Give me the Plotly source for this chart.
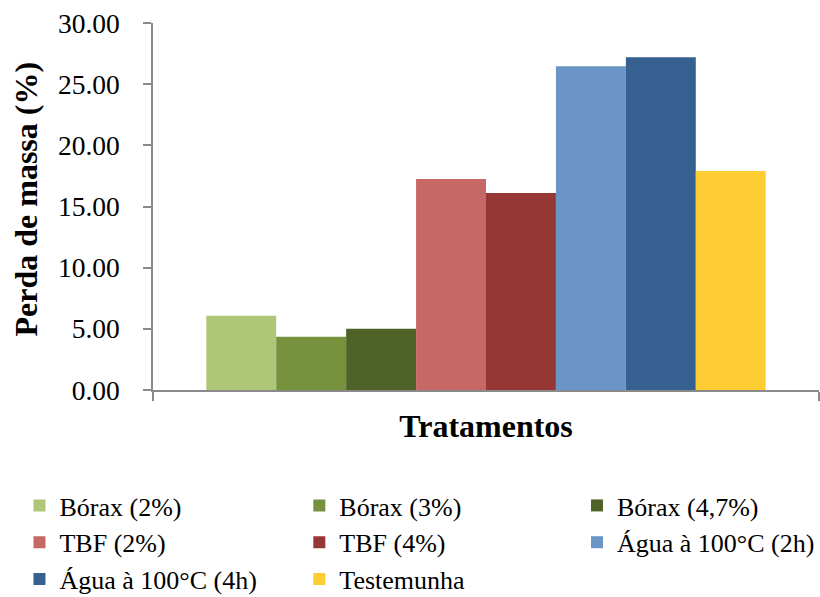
import plotly.graph_objects as go

# Treatments and mass-loss values (%)
tratamentos = [
    "Bórax (2%)", "Bórax (3%)", "Bórax (4,7%)",
    "TBF (2%)", "TBF (4%)",
    "Água à 100°C (2h)", "Água à 100°C (4h)", "Testemunha",
]
perda_massa = [6.07, 4.35, 5.00, 17.25, 16.10, 26.47, 27.20, 17.90]
cores = [
    "#ADC677", "#77923C", "#4F6228",
    "#C56866", "#953735",
    "#6A95C6", "#356090", "#FECD33",
]
y_ticks = [0, 5, 10, 15, 20, 25, 30]

# legend layout: three columns, filled row by row
legenda_por_item = ["legend", "legend2", "legend3",
                    "legend", "legend2", "legend3",
                    "legend", "legend2"]

FONT = "Liberation Serif"
AXIS_COLOR = "#8A8A8A"

fig = go.Figure()
for nome, valor, cor, leg in zip(tratamentos, perda_massa, cores, legenda_por_item):
    fig.add_trace(go.Bar(
        x=["Tratamentos"], y=[valor], name=nome,
        legend=leg, legendgroup=nome,
        marker=dict(color=cor, line=dict(width=0)),
    ))

legend_common = dict(
    orientation="v",
    xref="paper", yref="container",
    xanchor="left", yanchor="top",
    y=0.1926,
    tracegroupgap=1.2,
    bgcolor="rgba(0,0,0,0)", borderwidth=0,
    font=dict(family=FONT, size=26, color="black"),
    traceorder="normal",
)

fig.update_layout(
    template="none",
    width=820, height=597,
    margin=dict(l=153, r=1, t=23, b=207),
    paper_bgcolor="white", plot_bgcolor="white",
    barmode="group", bargap=0.16, bargroupgap=0,
    font=dict(family=FONT, color="black"),
    showlegend=True,
    legend=dict(x=-0.2005, **legend_common),
    legend2=dict(x=0.2197, **legend_common),
    legend3=dict(x=0.6381, **legend_common),
    xaxis=dict(
        type="category",
        range=[-0.5, 0.5],
        showticklabels=False,
        tickson="boundaries",
        ticks="outside", ticklen=9, tickcolor=AXIS_COLOR, tickwidth=1.5,
        showline=True, linecolor=AXIS_COLOR, linewidth=1.5,
        showgrid=False, zeroline=False,
        title=dict(text="<b>Tratamentos</b>",
                   font=dict(family=FONT, size=32, color="black"),
                   standoff=24),
    ),
    yaxis=dict(
        range=[0, 30],
        tickvals=y_ticks,
        ticktext=[f"{v:.2f}" for v in y_ticks],
        ticks="outside", ticklen=8, tickcolor=AXIS_COLOR, tickwidth=1.5,
        showline=True, linecolor=AXIS_COLOR, linewidth=1.5,
        showgrid=False, zeroline=False,
        tickfont=dict(family=FONT, size=27.5, color="black"),
        ticklabelstandoff=18,
    ),
    annotations=[dict(
        text="<b>Perda de massa (%)</b>",
        textangle=-90,
        xref="paper", yref="paper",
        x=(25.5 - 153) / 666, y=(390 - 199) / 367,
        xanchor="center", yanchor="middle",
        showarrow=False,
        font=dict(family=FONT, size=32, color="black"),
    )],
)

fig.write_html("out.html")
